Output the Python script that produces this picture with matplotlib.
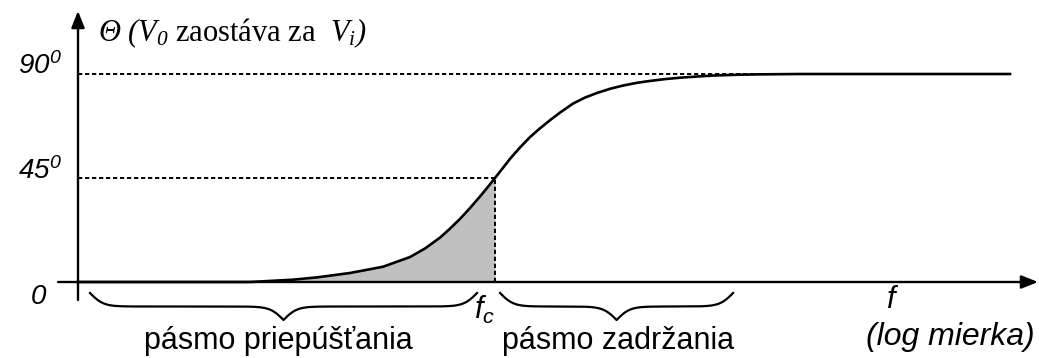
import numpy as np
import matplotlib
matplotlib.use('Agg')
import matplotlib.pyplot as plt

plt.rcParams['mathtext.fontset'] = 'custom'
plt.rcParams['mathtext.rm'] = 'Liberation Serif:italic'
plt.rcParams['mathtext.it'] = 'Liberation Serif:italic'
plt.rcParams['mathtext.sf'] = 'Liberation Sans:italic'

# phase lag (deg) vs. normalised frequency f/fc
f_ratio = [0.00822, 0.0596, 0.0977, 0.1288, 0.1884, 0.2754, 0.3758, 0.4467, 0.5309,
           0.5957, 0.6683, 0.7499, 0.8414, 0.9226, 1.0, 1.0965, 1.1885, 1.3335,
           1.4962, 1.6788, 1.8836, 2.1135, 2.4547, 2.8184, 3.2359, 3.7584, 4.3652,
           5.1286, 5.9566, 7.0795, 8.414, 10.593, 12.882, 16.788, 21.135, 33.497, 375.8]
phase = [0.0, 0.0, 1.0, 2.0, 3.9, 6.6, 10.8, 14.5, 19.2,
         23.1, 27.3, 32.0, 37.0, 41.2, 45.0, 49.4, 53.3, 58.2,
         62.7, 66.5, 70.0, 73.3, 77.2, 79.8, 81.8, 83.6, 85.0,
         86.2, 87.0, 87.8, 88.4, 89.0, 89.4, 89.7, 89.85, 90.0, 90.0]
fc = 1.0
ref_angles = [45, 90]
angle_labels = [r'$\mathsf{0}$', r'$\mathsf{45^0}$', r'$\mathsf{90^0}$']
band_labels = ['pásmo priepúšťania', 'pásmo zadržania']
# band edges (f/fc) for the braces
pass_band = (0.00944, 0.813)
stop_band = (1.06, 15.5)
f90_end = 33.5

# layout: 200 px per decade with fc at x=495; 2.311 px per degree, 0 deg at y=282
W, H = 1039, 358
def fx(px):
    return 10 ** ((px - 495) / 200)
def ty(py):
    return (282 - py) / 2.311

fig = plt.figure(figsize=(W / 100, H / 100), dpi=100)
ax = fig.add_axes([0, 0, 1, 1])
ax.set_xscale('log')
ax.set_xlim(fx(0), fx(W))
ax.set_ylim(ty(H), ty(0))
ax.axis('off')

f = np.array(f_ratio)
p = np.array(phase)

# shaded pass-band area under the curve up to fc
m = f <= fc
ax.fill_between(f[m], 0, p[m], color='#c0c0c0', lw=0, zorder=1)
ax.plot(f, p, color='black', lw=1.9, zorder=3, solid_joinstyle='round')

# reference lines
dash = dict(color='black', lw=1.4, linestyle=(0, (2.2, 1.4)), zorder=2)
ax.plot([fx(78), fc], [45, 45], **dash)
ax.plot([fx(78), f90_end], [90, 90], **dash)
ax.plot([fc, fc], [0, 45], **dash)

# axes with arrow heads
arrow = dict(arrowstyle='-|>,head_length=1.0,head_width=0.4',
             color='black', lw=1.7, shrinkA=0, shrinkB=0)
ax.annotate('', xy=(fx(1038), 0), xytext=(fx(58), 0), arrowprops=arrow, zorder=4)
ax.annotate('', xy=(fx(78), ty(11)), xytext=(fx(78), ty(300)), arrowprops=arrow, zorder=4)

# curly braces under the axis
def brace(f0, f1, beta=30.0, n=400):
    u0, u1 = np.log10(f0), np.log10(f1)
    half = (u1 - u0) / 2
    x = np.linspace(0, half, n)
    v = 1 / (1 + np.exp(-beta * (x - x[0]))) + 1 / (1 + np.exp(-beta * (x - x[-1])))
    v = np.concatenate([v, v[::-1]])
    u = np.concatenate([u0 + x, u0 + half + x])
    ypx = 293 + (v - 0.5) * 27
    return 10 ** u, ty(ypx)

for band in (pass_band, stop_band):
    bx, by = brace(*band)
    ax.plot(bx, by, color='black', lw=1.6)

# labels
sans = 'Liberation Sans'
label_pos = {0: (47, 296), 45: (62, 171), 90: (62, 66)}
for val, lab in zip([0] + ref_angles, angle_labels):
    px, py = label_pos[val]
    ax.text(fx(px), ty(py), lab, ha='right', va='center', fontsize=20)

ax.text(fx(98), ty(33), r'$Θ\ (V_0$' + ' zaostáva za  ' + r'$V_i)$',
        family='Liberation Serif', fontsize=22, ha='left', va='center')

ax.text(fx(485), ty(310), r'$\mathsf{f_c}$', ha='center', va='center', fontsize=22)
ax.text(fx(893), ty(300), r'$\mathsf{f}$', ha='center', va='center', fontsize=22)
ax.text(fx(1035), ty(345), '(log mierka)', ha='right', va='baseline', fontsize=23,
        family=sans, fontstyle='italic')

ax.text(fx(278), ty(349), band_labels[0], ha='center', va='baseline', fontsize=22, family=sans)
ax.text(fx(618), ty(349), band_labels[1], ha='center', va='baseline', fontsize=22, family=sans)

fig.savefig('out.png', dpi=100)
